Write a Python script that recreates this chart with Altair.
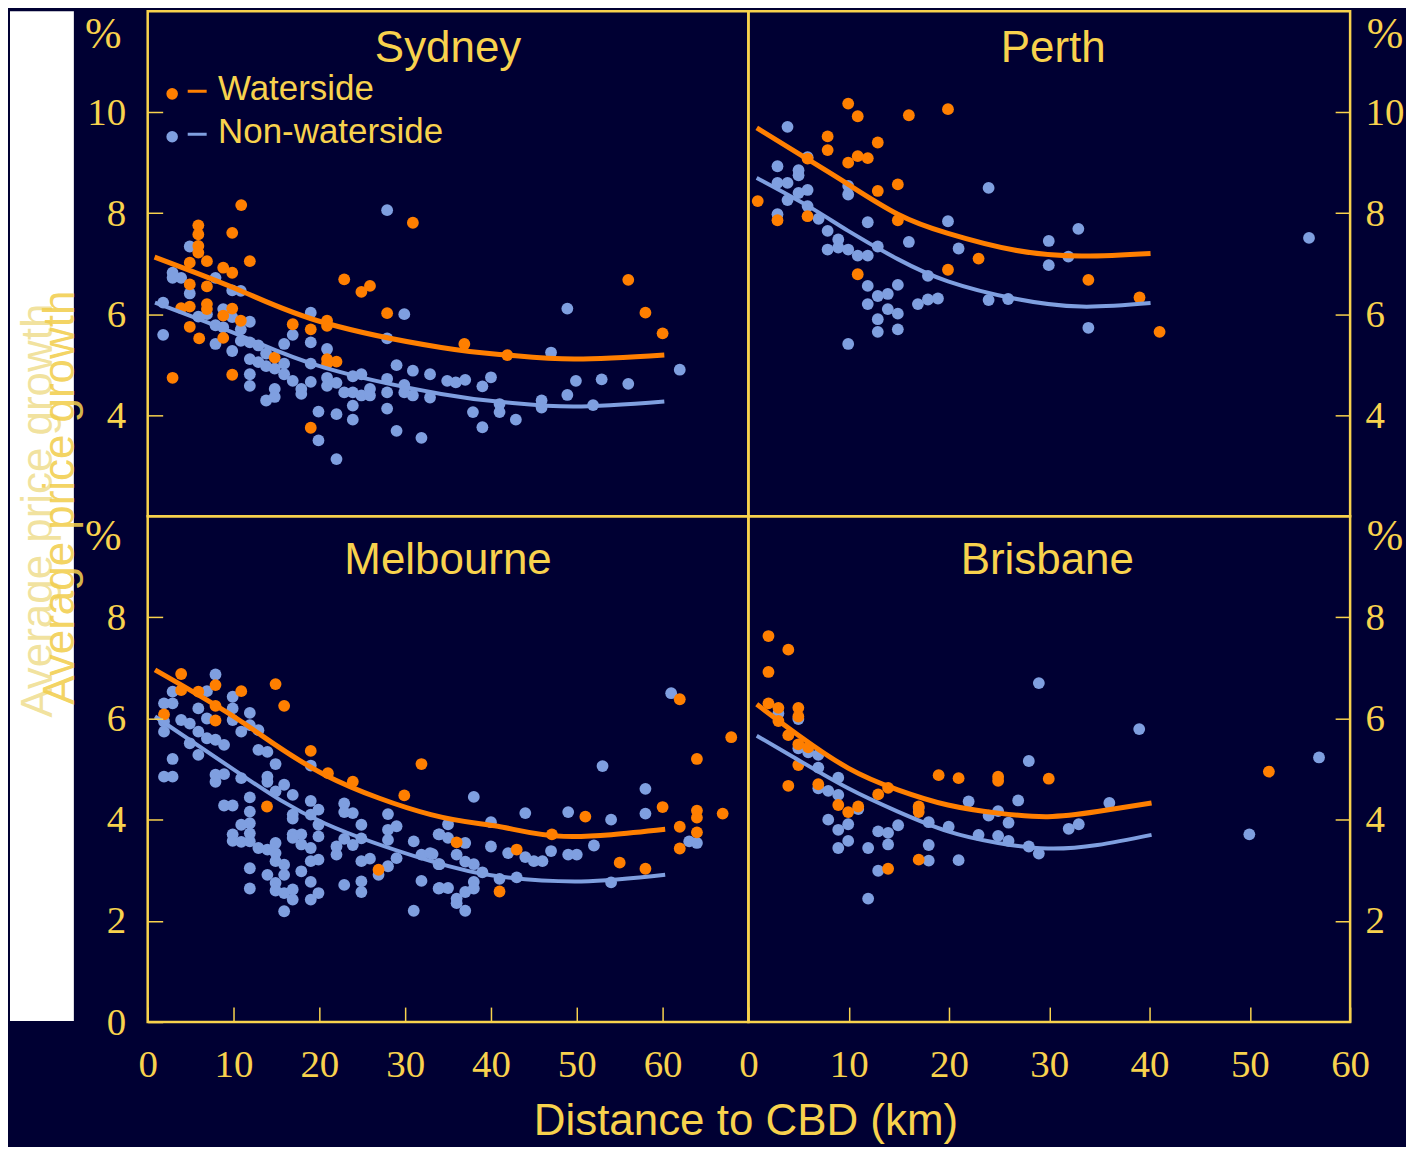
import math
import altair as alt
import pandas as pd

BG = "#000033"
GOLD = "#F8D24D"
ORANGE = "#FF7F00"
BLUE = "#7F9FE0"
SERIF = "Liberation Serif"
SANS = "Liberation Sans"

SERIES = ["Waterside", "Non-waterside"]
X_TICKS = [0, 10, 20, 30, 40, 50, 60]

# ---------------- Sydney ----------------
syd_w_x = [10.9, 30.9, 5.9, 5.9, 9.85, 5.9, 5.9, 4.9, 6.9, 11.9, 8.8, 9.85, 4.9, 6.9, 22.9,
           24.9, 25.9, 3.9, 4.9, 6.9, 6.9, 9.85, 8.8, 10.85, 4.9, 6.0, 8.8, 16.9, 19.0, 27.9,
           20.9, 20.9, 14.8, 20.9, 22.0, 20.9, 9.85, 2.9, 19.0, 36.9, 41.9, 56.0, 58.0, 60.0]
syd_w_y = [8.16, 7.81, 7.76, 7.58, 7.61, 7.35, 7.22, 7.02, 7.05, 7.05, 6.92, 6.82, 6.59, 6.55, 6.69,
           6.44, 6.56, 6.12, 6.15, 6.20, 6.10, 6.11, 5.97, 5.87, 5.75, 5.52, 5.53, 5.80, 5.70, 6.02,
           5.87, 5.77, 5.14, 5.11, 5.06, 5.02, 4.80, 4.74, 3.75, 5.41, 5.19, 6.68, 6.03, 5.62]
syd_n_x = [27.9, 4.9, 2.9, 2.9, 3.9, 7.9, 4.9, 9.85, 10.85, 1.8, 1.8, 8.8, 5.9, 6.9, 7.9,
           8.8, 9.85, 10.85, 11.9, 7.9, 9.85, 10.85, 11.9, 12.9, 13.8, 15.9, 16.9, 19.0, 19.0, 11.9,
           12.9, 11.9, 11.9, 13.8, 14.8, 15.9, 15.9, 16.9, 14.8, 13.8, 14.8, 17.9, 17.9, 19.0, 19.0,
           20.9, 20.9, 20.9, 22.0, 19.9, 22.0, 19.9, 22.0, 22.9, 23.9, 23.9, 24.9, 24.9, 23.9, 23.9,
           25.9, 25.9, 27.9, 27.9, 27.9, 27.9, 29.0, 29.9, 29.9, 29.9, 30.9, 30.9, 29.0, 31.9, 32.9,
           32.9, 48.9, 47.0, 34.9, 35.9, 37.0, 39.0, 40.0, 37.9, 39.0, 41.0, 41.0, 42.9, 45.9, 45.9,
           48.9, 49.9, 52.9, 51.9, 56.0, 62.0]
syd_n_y = [8.06, 7.34, 6.82, 6.72, 6.72, 6.72, 6.41, 6.47, 6.46, 6.23, 5.59, 6.10, 5.95, 6.00, 5.78,
           5.74, 5.94, 5.70, 5.85, 5.41, 5.27, 5.47, 5.44, 5.38, 5.22, 5.41, 5.59, 6.03, 5.44, 5.11,
           5.05, 4.81, 4.58, 4.97, 4.92, 5.02, 4.81, 4.68, 4.52, 4.29, 4.36, 4.52, 4.42, 5.02, 4.66,
           5.31, 4.74, 4.58, 4.64, 4.07, 4.02, 3.50, 3.13, 4.45, 4.77, 4.45, 4.81, 4.39, 4.19, 3.91,
           4.52, 4.39, 5.52, 4.72, 4.45, 4.13, 4.99, 6.00, 4.60, 4.45, 4.88, 4.39, 3.69, 3.55, 4.81,
           4.35, 6.11, 5.24, 4.68, 4.65, 4.70, 4.57, 4.75, 4.06, 3.76, 4.22, 4.06, 3.91, 4.29, 4.15,
           4.40, 4.68, 4.71, 4.20, 4.62, 4.90]
syd_cw_x = [0.8, 10.9, 20.6, 34.2, 41.9, 49.7, 60.2]
syd_cw_y = [7.13, 6.46, 5.83, 5.34, 5.19, 5.11, 5.19]
syd_cn_x = [0.85, 10.9, 20.6, 34.2, 41.9, 49.7, 60.2]
syd_cn_y = [6.23, 5.57, 4.94, 4.42, 4.25, 4.17, 4.27]

# ---------------- Perth ----------------
per_w_x = [9.95, 10.9, 16.0, 19.9, 7.9, 7.9, 12.9, 9.95, 10.9, 11.9, 5.9, 12.9, 14.9, 14.9, 0.93,
           2.9, 5.9, 10.9, 19.9, 22.95, 33.9, 39.0, 41.0]
per_w_y = [10.17, 9.92, 9.94, 10.06, 9.52, 9.25, 9.40, 9.00, 9.13, 9.09, 9.08, 8.44, 8.57, 7.86, 8.24,
           7.86, 7.94, 6.79, 6.88, 7.10, 6.68, 6.33, 5.65]
per_n_x = [3.9, 2.9, 5.0, 5.0, 5.9, 2.9, 3.9, 5.0, 5.9, 3.9, 5.9, 2.9, 7.0, 7.9, 8.96,
           7.9, 8.96, 9.95, 9.95, 9.95, 10.9, 11.9, 11.9, 12.9, 16.0, 20.96, 19.9, 23.95, 11.9, 12.9,
           13.9, 14.9, 11.9, 13.9, 14.9, 12.9, 12.9, 14.9, 9.95, 16.9, 17.9, 18.9, 17.9, 23.95, 25.9,
           29.95, 29.95, 31.9, 32.9, 33.9, 55.9]
per_n_y = [9.71, 8.93, 8.85, 8.75, 9.11, 8.60, 8.60, 8.40, 8.46, 8.26, 8.14, 7.98, 7.89, 7.65, 7.48,
           7.28, 7.32, 8.54, 8.37, 7.28, 7.16, 7.16, 7.82, 7.34, 7.43, 7.30, 7.84, 8.50, 6.56, 6.36,
           6.40, 6.58, 6.20, 6.10, 6.01, 5.90, 5.65, 5.70, 5.41, 6.20, 6.29, 6.31, 6.76, 6.28, 6.30,
           7.45, 6.97, 7.14, 7.69, 5.73, 7.51]
per_cw_x = [0.83, 5.97, 9.95, 14.9, 19.9, 26.5, 33.2, 40.1]
per_cw_y = [9.69, 9.06, 8.57, 7.98, 7.60, 7.27, 7.15, 7.20]
per_cn_x = [0.83, 5.97, 9.95, 14.9, 19.9, 26.5, 33.2, 40.1]
per_cn_y = [8.70, 8.14, 7.65, 7.09, 6.65, 6.31, 6.15, 6.22]

# ---------------- Melbourne ----------------
mel_w_x = [3.9, 3.9, 5.9, 7.9, 7.9, 7.9, 10.9, 14.9, 15.9, 1.9, 19.0, 21.0, 23.9, 31.9, 29.9,
           13.9, 26.9, 62.0, 68.0, 64.0, 60.0, 64.0, 64.0, 67.0, 62.0, 64.0, 62.0, 51.0, 47.1, 36.0,
           43.0, 55.0, 58.0, 41.0]
mel_w_y = [6.88, 6.56, 6.53, 6.66, 6.25, 5.96, 6.54, 6.68, 6.25, 6.08, 5.36, 4.92, 4.75, 5.10, 4.48,
           4.26, 3.01, 6.38, 5.63, 5.20, 4.25, 4.18, 4.04, 4.12, 3.86, 3.75, 3.43, 4.06, 3.71, 3.55,
           3.41, 3.15, 3.03, 2.58]
mel_n_x = [7.9, 2.9, 6.9, 1.9, 2.9, 5.9, 9.9, 9.9, 11.9, 1.9, 1.9, 3.9, 4.9, 6.9, 9.9,
           5.9, 6.9, 7.9, 8.9, 4.9, 5.9, 11.9, 12.9, 10.9, 12.9, 2.9, 1.9, 2.9, 7.9, 7.9,
           8.9, 10.9, 13.95, 14.9, 13.95, 13.95, 15.9, 14.9, 16.9, 19.0, 8.9, 9.9, 11.9, 11.9, 11.9,
           10.9, 11.9, 9.9, 9.9, 10.9, 11.9, 12.9, 13.95, 14.9, 14.9, 14.9, 15.9, 15.9, 13.95, 11.9,
           11.9, 14.9, 14.9, 15.9, 16.9, 16.9, 15.9, 17.9, 19.0, 19.0, 19.0, 19.9, 19.9, 16.9, 16.9,
           17.9, 17.9, 19.0, 16.9, 16.9, 19.0, 19.0, 19.9, 19.9, 19.9, 22.0, 22.0, 22.9, 22.9, 23.9,
           24.9, 22.9, 23.9, 24.9, 24.9, 25.9, 22.9, 24.9, 24.9, 28.0, 28.0, 29.0, 28.0, 29.0, 28.0,
           26.9, 31.0, 31.9, 32.9, 33.9, 33.9, 31.9, 33.9, 31.0,
           61.0, 53.0, 58.0, 58.0, 38.0, 44.0, 49.0, 54.0, 40.0, 35.0, 34.0, 35.0, 37.0, 40.0, 36.0,
           37.0, 38.0, 42.0, 44.0, 45.0, 46.0, 47.0, 49.0, 50.0, 52.0, 33.2, 34.0, 39.0, 41.0, 43.0,
           38.0, 38.0, 37.0, 34.0, 35.0, 36.0, 36.0, 37.0, 54.0, 63.1, 64.0]
mel_n_y = [6.87, 6.53, 6.54, 6.30, 6.30, 6.20, 6.43, 6.20, 6.11, 5.94, 5.74, 5.97, 5.90, 6.00, 5.97,
           5.74, 5.61, 5.58, 5.48, 5.51, 5.28, 5.87, 5.77, 5.74, 5.38, 5.20, 4.85, 4.85, 4.89, 4.75,
           4.90, 4.82, 5.34, 5.10, 4.85, 4.75, 4.69, 4.56, 4.49, 5.07, 4.28, 4.28, 4.44, 4.16, 3.93,
           3.90, 3.73, 3.71, 3.58, 3.56, 3.57, 3.44, 3.41, 3.54, 3.34, 3.18, 3.11, 2.91, 2.91, 3.04,
           2.64, 2.75, 2.60, 2.55, 2.62, 2.42, 2.19, 2.98, 3.18, 2.77, 2.42, 3.21, 2.55, 3.71, 3.64,
           3.71, 3.51, 3.44, 4.10, 4.02, 4.37, 4.10, 4.20, 3.90, 3.67, 3.47, 3.31, 4.32, 4.15, 4.13,
           3.90, 3.62, 3.50, 3.63, 3.18, 3.23, 2.71, 2.78, 2.57, 4.11, 3.80, 3.87, 3.60, 3.24, 3.08,
           2.91, 3.57, 3.31, 3.34, 3.71, 3.12, 2.79, 2.64, 2.20,
           6.50, 5.06, 4.61, 4.12, 4.45, 4.13, 4.15, 4.00, 3.95, 3.91, 3.71, 3.64, 3.54, 3.47, 3.31,
           3.17, 3.12, 3.34, 3.26, 3.18, 3.18, 3.38, 3.31, 3.31, 3.49, 3.32, 3.12, 2.96, 2.83, 2.86,
           2.77, 2.64, 2.57, 2.65, 2.65, 2.44, 2.35, 2.20, 2.76, 3.57, 3.54]
mel_cw_x = [0.85, 10.9, 20.6, 33.0, 40.8, 48.5, 60.3]
mel_cw_y = [6.96, 5.94, 4.89, 4.10, 3.87, 3.67, 3.81]
mel_cn_x = [0.85, 10.9, 20.6, 33.0, 40.8, 50.5, 60.3]
mel_cn_y = [6.04, 4.89, 3.93, 3.18, 2.88, 2.78, 2.91]

# ---------------- Brisbane ----------------
bri_w_x = [2.0, 3.98, 2.0, 2.0, 2.99, 4.98, 4.98, 2.99, 3.98, 4.98, 5.97, 4.98, 3.98, 6.97, 8.96,
           9.95, 10.95, 12.94, 13.93, 16.98, 16.98, 16.98, 13.93, 18.97, 20.96, 24.9, 24.9, 29.95, 51.9]
bri_w_y = [7.63, 7.36, 6.92, 6.30, 6.21, 6.21, 6.04, 5.95, 5.67, 5.49, 5.43, 5.08, 4.67, 4.70, 4.29,
           4.15, 4.26, 4.50, 4.63, 4.26, 4.15, 3.21, 3.03, 4.88, 4.82, 4.85, 4.77, 4.81, 4.95]
bri_n_x = [28.96, 38.97, 2.99, 4.98, 4.98, 5.97, 6.97, 6.97, 8.96, 6.97, 7.96, 8.96, 10.95, 7.96, 8.96,
           9.95, 9.95, 8.96, 11.94, 12.94, 13.93, 13.93, 14.93, 12.94, 11.94, 16.98, 17.98, 17.98, 17.98, 19.97,
           20.96, 21.96, 22.95, 23.95, 24.9, 24.9, 25.94, 25.94, 26.9, 27.96, 27.96, 28.96, 31.94, 32.94, 35.99,
           49.95, 56.9]
bri_n_y = [6.70, 5.79, 6.10, 5.99, 5.41, 5.33, 5.28, 5.03, 4.83, 4.62, 4.57, 4.49, 4.21, 4.00, 3.80,
           3.91, 3.58, 3.44, 3.44, 3.77, 3.74, 3.51, 3.89, 2.99, 2.44, 4.23, 3.95, 3.50, 3.19, 3.86,
           3.20, 4.36, 3.70, 4.08, 4.17, 3.68, 3.94, 3.58, 4.38, 5.16, 3.47, 3.33, 3.82, 3.91, 4.33,
           3.71, 5.23]
bri_cw_x = [0.83, 4.98, 9.95, 14.9, 19.9, 24.9, 29.85, 34.8, 40.2]
bri_cw_y = [6.28, 5.67, 5.02, 4.59, 4.29, 4.13, 4.06, 4.16, 4.33]
bri_cn_x = [0.83, 4.98, 9.95, 14.9, 19.9, 24.9, 29.85, 34.8, 40.2]
bri_cn_y = [5.66, 5.18, 4.62, 4.16, 3.77, 3.54, 3.43, 3.50, 3.70]


def points_df(wx, wy, nx, ny):
    rows = [{"d": a, "g": b, "s": "Non-waterside"} for a, b in zip(nx, ny)]
    rows += [{"d": a, "g": b, "s": "Waterside"} for a, b in zip(wx, wy)]
    return pd.DataFrame(rows)


def curves_df(wx, wy, nx, ny):
    rows = [{"d": a, "g": b, "s": "Waterside"} for a, b in zip(wx, wy)]
    rows += [{"d": a, "g": b, "s": "Non-waterside"} for a, b in zip(nx, ny)]
    return pd.DataFrame(rows)


CSCALE = alt.Scale(domain=SERIES, range=[ORANGE, BLUE])
WSCALE = alt.Scale(domain=SERIES, range=[5, 4])

# legend glyph: a dot followed by a short dash (unit box -1..1)
_dot = " ".join(
    ("M" if k == 0 else "L")
    + f"{-0.75 + 0.29 * math.cos(k * math.pi / 8):.3f},{0.24 + 0.29 * math.sin(k * math.pi / 8):.3f}"
    for k in range(16)
) + " Z"
LEGEND_PATH = _dot + " M0.03,0.04 L0.98,0.04 L0.98,0.19 L0.03,0.19 Z"

LABEL_SIZE = 39


def panel(name, pts, crv, xmax, ydom, yvals, side, width, height, title_x, title_y,
          pct_y, pct_baseline, xvals=None, xtitle=False, ytitle=None, legend=False,
          backdrop=False):
    xs = alt.Scale(domain=[0, xmax], nice=False, zero=False)
    ys = alt.Scale(domain=ydom, nice=False, zero=False)

    yax = dict(orient=side, values=yvals, offset=-15, tickSize=15, tickColor=GOLD, tickWidth=1.5,
               domain=False, grid=False, labelFont=SERIF, labelFontSize=LABEL_SIZE, labelColor=GOLD,
               labelPadding=22 if side == "left" else 15, labelFlush=False, labelOverlap=False,
               title=None)
    if ytitle is not None:
        yax.update(title="Average price growth", titleFont=SANS, titleFontSize=44,
                   titleFontWeight="normal", titleColor=ytitle["color"], titleOpacity=ytitle["opacity"],
                   titleAngle=270, titleAlign="center", titleBaseline="alphabetic",
                   titleX=ytitle["x"], titleY=ytitle["y"], zindex=1)
    if xvals is not None:
        xax = dict(orient="bottom", values=xvals, offset=-15, tickSize=15, tickColor=GOLD,
                   tickWidth=1.5, domain=False, grid=False, labelFont=SERIF, labelFontSize=LABEL_SIZE,
                   labelColor=GOLD, labelPadding=24, labelFlush=False, labelOverlap=False, title=None)
        if xtitle:
            xax.update(title="Distance to CBD (km)", titleFont=SANS, titleFontSize=44,
                       titleFontWeight="normal", titleColor=GOLD, titleAlign="center",
                       titleBaseline="alphabetic", titleX=599, titleY=128)
        x_axis = alt.Axis(**xax)
    else:
        x_axis = None

    pt_color = dict(scale=CSCALE)
    if legend:
        pt_color["legend"] = alt.Legend(
            title=None, orient="none", legendX=19.5, legendY=58, padding=0,
            symbolType=LEGEND_PATH, symbolSize=1600, symbolStrokeWidth=0,
            symbolOpacity=1, labelFont=SANS, labelFontSize=35, labelColor=GOLD,
            labelOffset=11, labelLimit=500, rowPadding=5)
    else:
        pt_color["legend"] = None

    # the points layer comes first so that its explicit axis/legend settings win the merge
    pts_layer = alt.Chart(pts).mark_circle(size=140, opacity=1).encode(
        x=alt.X("d:Q", scale=xs, axis=x_axis),
        y=alt.Y("g:Q", scale=ys, axis=alt.Axis(**yax)),
        color=alt.Color("s:N", **pt_color),
    )
    line_layer = alt.Chart(crv).mark_line(interpolate="natural").encode(
        x=alt.X("d:Q", scale=xs),
        y=alt.Y("g:Q", scale=ys),
        color=alt.Color("s:N", scale=CSCALE),
        strokeWidth=alt.StrokeWidth("s:N", scale=WSCALE, legend=None),
    )
    title_layer = alt.Chart(pd.DataFrame({"t": [name]})).mark_text(
        font=SANS, fontSize=44, color=GOLD, align="center", baseline="alphabetic").encode(
        x=alt.XDatum(title_x, scale=xs),
        y=alt.YDatum(title_y, scale=ys),
        text="t:N",
    )
    pct_x = -44.5 if side == "left" else width + 35
    pct_layer = alt.Chart(pd.DataFrame({"t": ["%"]})).mark_text(
        font=SERIF, fontSize=44, color=GOLD, align="center", baseline=pct_baseline).encode(
        x=alt.value(pct_x),
        y=alt.YDatum(pct_y, scale=ys),
        text="t:N",
    )
    layers = [pts_layer, line_layer, title_layer, pct_layer]
    if backdrop:
        layers.append(
            alt.Chart(pd.DataFrame({"k": [0]})).mark_rect(color="white").encode(
                x=alt.value(-138), x2=alt.value(-74), y=alt.value(0), y2=alt.value(1012))
        )
    return alt.layer(*layers).properties(width=width, height=height)


syd = panel("Sydney", points_df(syd_w_x, syd_w_y, syd_n_x, syd_n_y),
            curves_df(syd_cw_x, syd_cw_y, syd_cn_x, syd_cn_y),
            70, [2, 12], [4, 6, 8, 10], "left", 602, 506, 35, 10.99, 11.955, "top",
            ytitle={"color": "#E9CF5E", "opacity": 0.6, "x": -111, "y": 500},
            legend=True, backdrop=True)
per = panel("Perth", points_df(per_w_x, per_w_y, per_n_x, per_n_y),
            curves_df(per_cw_x, per_cw_y, per_cn_x, per_cn_y),
            60, [2, 12], [4, 6, 8, 10], "right", 603, 506, 30.4, 10.99, 11.955, "top")
mel = panel("Melbourne", points_df(mel_w_x, mel_w_y, mel_n_x, mel_n_y),
            curves_df(mel_cw_x, mel_cw_y, mel_cn_x, mel_cn_y),
            70, [0, 10], [0, 2, 4, 6, 8], "left", 602, 507, 35, 8.86, 9.33, "alphabetic",
            xvals=X_TICKS, xtitle=True,
            ytitle={"color": "#F2CE4E", "opacity": 0.9, "x": -89, "y": -19})
bri = panel("Brisbane", points_df(bri_w_x, bri_w_y, bri_n_x, bri_n_y),
            curves_df(bri_cw_x, bri_cw_y, bri_cn_x, bri_cn_y),
            60, [0, 10], [2, 4, 6, 8], "right", 603, 507, 29.8, 8.86, 9.33, "alphabetic",
            xvals=X_TICKS)

chart = (
    alt.concat(syd, per, mel, bri, columns=2, spacing=0, bounds="flush")
    .resolve_legend(color="independent")
    .properties(background=BG, padding=0)
    .configure_view(stroke=GOLD, strokeWidth=2.5)
)

chart.save("out.html", embed_options={"renderer": "svg", "actions": False})
